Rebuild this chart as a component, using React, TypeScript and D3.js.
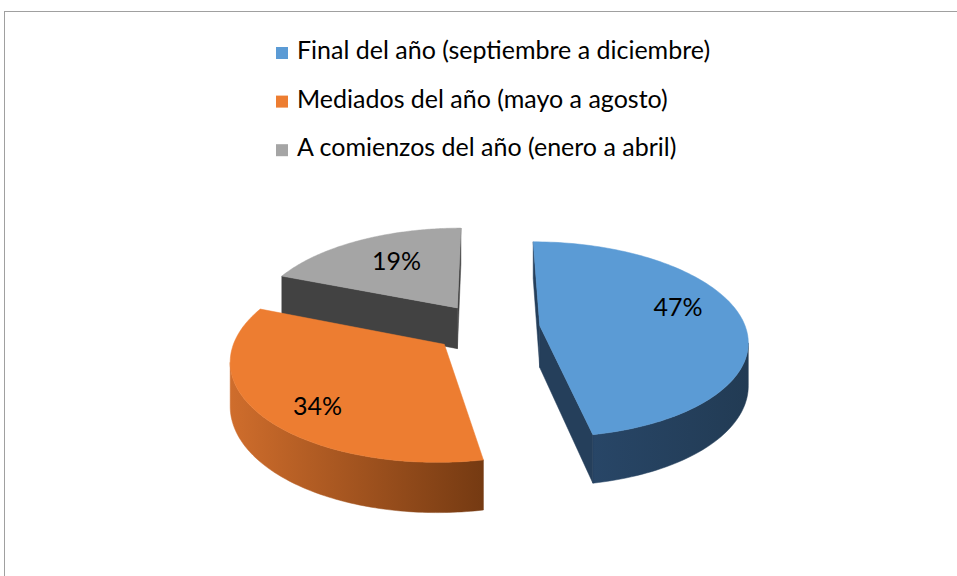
import { useEffect, useRef } from 'react';
import * as d3 from 'd3';

const categories = [
  'Final del año (septiembre a diciembre)',
  'Mediados del año (mayo a agosto)',
  'A comienzos del año (enero a abril)',
];
const values = [47, 34, 19];
const labels = ['47%', '34%', '19%'];

const topColors = ['#5B9BD5', '#ED7D31', '#A5A5A5'];
const sideColors = [
  ['#2A4A6E', '#223B54'],
  ['#CF6D2C', '#753A12'],
  ['#404040', '#404040'],
];
const faceColors = ['#253F5B', '#8A4718', '#424242'];

const W = 957;
const H = 576;
const FONT = "Lato, 'Noto Sans', sans-serif";

// fake perspective: disk radius 1, Z points away from viewer
const cx = 486.6;
const cy = 328;
const kx = 206;
const ky = 96.3;
const persp = 0.141;
const depth = 42;
const explode = 0.26;
const labelR = 0.68;
const labelNudge = [[1, -14], [-6, 14], [8, -1]];

function project(X: number, Z: number, bottom: boolean): [number, number] {
  const s = 1 / (1 + persp * Z);
  return [cx + kx * X * s, cy + (-ky * Z + (bottom ? depth : 0)) * s];
}

function area(pts: [number, number][]) {
  let a = 0;
  for (let i = 0; i < pts.length; i++) {
    const p = pts[i];
    const q = pts[(i + 1) % pts.length];
    a += p[0] * q[1] - q[0] * p[1];
  }
  return a / 2;
}

export default function App() {
  const svgRef = useRef<SVGSVGElement>(null);

  useEffect(() => {
    if (!svgRef.current) return;
    const svg = d3.select(svgRef.current);
    svg.selectAll('*').remove();

    const defs = svg.append('defs');

    // chart frame (cut off by the window on the right and bottom)
    svg.append('rect')
      .attr('x', 4.5)
      .attr('y', 11.5)
      .attr('width', 1200)
      .attr('height', 800)
      .attr('fill', '#fff')
      .attr('stroke', '#A0A0A0')
      .attr('stroke-width', 1);

    // legend
    const legend = svg.append('g')
      .selectAll('g')
      .data(categories)
      .join('g')
      .attr('transform', (d, i) => `translate(276,${59 + i * 48.6})`);

    legend.append('rect')
      .attr('x', 0)
      .attr('y', -12)
      .attr('width', 12)
      .attr('height', 12)
      .attr('fill', (d, i) => topColors[i]);

    legend.append('text')
      .attr('x', 21)
      .attr('y', 0)
      .attr('font-family', FONT)
      .attr('font-size', 25)
      .attr('fill', '#000')
      .text(d => d);

    const pie = d3.pie<number>().sort(null).value(d => d);
    const arcs = pie(values);

    const line = d3.line<[number, number]>();
    const slices = arcs.map((a, i) => {
      const mid = (a.startAngle + a.endAngle) / 2;
      const ox = explode * Math.sin(mid);
      const oz = explode * Math.cos(mid);
      return { a, i, mid, ox, oz };
    });

    // far slices first
    slices.sort((p, q) => q.oz - p.oz);

    const pieG = svg.append('g');

    slices.forEach(({ a, i, ox, oz }) => {
      const g = pieG.append('g');
      const n = 120;
      const angles = d3.range(n + 1).map(j => a.startAngle + (a.endAngle - a.startAngle) * j / n);
      const rim = (t: number, bottom: boolean) => project(ox + Math.sin(t), oz + Math.cos(t), bottom);
      const apex = (bottom: boolean) => project(ox, oz, bottom);

      // side gradient
      const gid = `side${i}`;
      const xs = angles.map(t => rim(t, false)[0]);
      defs.append('linearGradient')
        .attr('id', gid)
        .attr('gradientUnits', 'userSpaceOnUse')
        .attr('x1', d3.min(xs)!)
        .attr('x2', d3.max(xs)!)
        .attr('y1', 0)
        .attr('y2', 0)
        .selectAll('stop')
        .data(sideColors[i])
        .join('stop')
        .attr('offset', (d, j) => j)
        .attr('stop-color', d => d);

      // outer wall: collect visible runs
      let run: number[] = [];
      const runs: number[][] = [];
      for (let j = 0; j < n; j++) {
        const quad = [rim(angles[j], false), rim(angles[j + 1], false), rim(angles[j + 1], true), rim(angles[j], true)];
        if (area(quad) < 0) run.push(j);
        else if (run.length) { runs.push(run); run = []; }
      }
      if (run.length) runs.push(run);
      runs.forEach(r => {
        const ts = angles.slice(r[0], r[r.length - 1] + 2);
        const pts = ts.map(t => rim(t, false)).concat(ts.slice().reverse().map(t => rim(t, true)));
        g.append('path')
          .attr('d', line(pts) + 'Z')
          .attr('fill', `url(#${gid})`)
          .attr('stroke', `url(#${gid})`)
          .attr('stroke-width', 0.5);
      });

      // radial cut faces
      const startFace = [apex(false), rim(a.startAngle, false), rim(a.startAngle, true), apex(true)];
      const endFace = [rim(a.endAngle, false), apex(false), apex(true), rim(a.endAngle, true)];
      [startFace, endFace].forEach(f => {
        if (area(f) < 0) {
          g.append('path')
            .attr('d', line(f) + 'Z')
            .attr('fill', faceColors[i])
            .attr('stroke', faceColors[i])
            .attr('stroke-width', 0.5);
        }
      });

      // top face
      const top = [apex(false)].concat(angles.map(t => rim(t, false)));
      g.append('path')
        .attr('d', line(top) + 'Z')
        .attr('fill', topColors[i])
        .attr('stroke', topColors[i])
        .attr('stroke-width', 0.5);
    });

    // data labels
    const lab = svg.append('g');
    arcs.forEach((a, i) => {
      const mid = (a.startAngle + a.endAngle) / 2;
      const X = (explode + labelR) * Math.sin(mid);
      const Z = (explode + labelR) * Math.cos(mid);
      const [x, y] = project(X, Z, false);
      lab.append('text')
        .attr('x', x + labelNudge[i][0])
        .attr('y', y + labelNudge[i][1])
        .attr('text-anchor', 'middle')
        .attr('dominant-baseline', 'central')
        .attr('font-family', FONT)
        .attr('font-size', 25)
        .attr('fill', '#000')
        .text(labels[i]);
    });
  }, []);

  return (
    <div style={{ position: 'fixed', left: 0, top: 0, width: W, height: H, background: '#fff' }}>
      <svg ref={svgRef} width={W} height={H} style={{ display: 'block' }} />
    </div>
  );
}
